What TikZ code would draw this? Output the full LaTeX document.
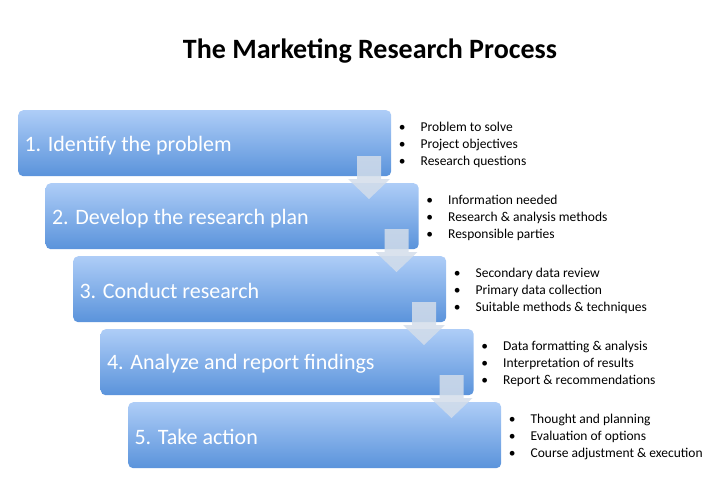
\documentclass[tikz,border=0pt]{standalone}
\usepackage{fontspec}
\setmainfont{Carlito}
\usetikzlibrary{positioning}
\definecolor{boxtop}{HTML}{AECDF7}
\definecolor{boxbot}{HTML}{5A93DB}
\definecolor{arrowfill}{HTML}{D3DDEA}
\tikzset{
  stepbox/.style={rounded corners=5pt, top color=boxtop, bottom color=boxbot,
    draw=none, minimum width=373pt, minimum height=66pt, inner sep=0pt},
  steptext/.style={text=white, font=\fontsize{22}{26}\selectfont, anchor=west},
  bullettext/.style={font=\fontsize{13.5}{16.7}\selectfont, anchor=north west, align=left},
  downarrow/.style={fill=arrowfill, fill opacity=0.85, draw=none}
}
\begin{document}
\begin{tikzpicture}[x=1pt,y=-1pt]
    \useasboundingbox (0,0) rectangle (720,482);
    \node[font=\bfseries\fontsize{28}{32}\selectfont] (title) at (370,51) {The Marketing Research Process};

    \foreach \i/\lab/\ba/\bb/\bc in {
        1/{1. Identify the problem}/{Problem to solve}/{Project objectives}/{Research questions},
        2/{2. Develop the research plan}/{Information needed}/{Research \& analysis methods}/{Responsible parties},
        3/{3. Conduct research}/{Secondary data review}/{Primary data collection}/{Suitable methods \& techniques},
        4/{4. Analyze and report findings}/{Data formatting \& analysis}/{Interpretation of results}/{Report \& recommendations},
        5/{5. Take action}/{Thought and planning}/{Evaluation of options}/{Course adjustment \& execution}} {
        \pgfmathsetmacro\bx{18+27.5*(\i-1)}
        \pgfmathsetmacro\by{110+73*(\i-1)}
        \node[stepbox, anchor=north west] (box\i) at (\bx,\by) {};
        \node[steptext] (lab\i) at ([xshift=3pt,yshift=-2pt]box\i.west) {\lab};
        \node[bullettext] (list\i) at ([xshift=4pt,yshift=-9pt]box\i.north east)
          {\textbullet\hspace{15pt}\ba\\ \textbullet\hspace{15pt}\bb\\ \textbullet\hspace{15pt}\bc};
    }

    % down arrows between the steps
    \foreach \i in {1,...,4} {
        \pgfmathsetmacro\ax{357+27.5*(\i-1)}
        \pgfmathsetmacro\ay{156+73*(\i-1)}
        \fill[downarrow] (\ax,\ay) -- ++(24,0) -- ++(0,23) -- ++(9,0)
            -- ++(-21,20) -- ++(-21,-20) -- ++(9,0) -- cycle;
    }
\end{tikzpicture}
\end{document}
